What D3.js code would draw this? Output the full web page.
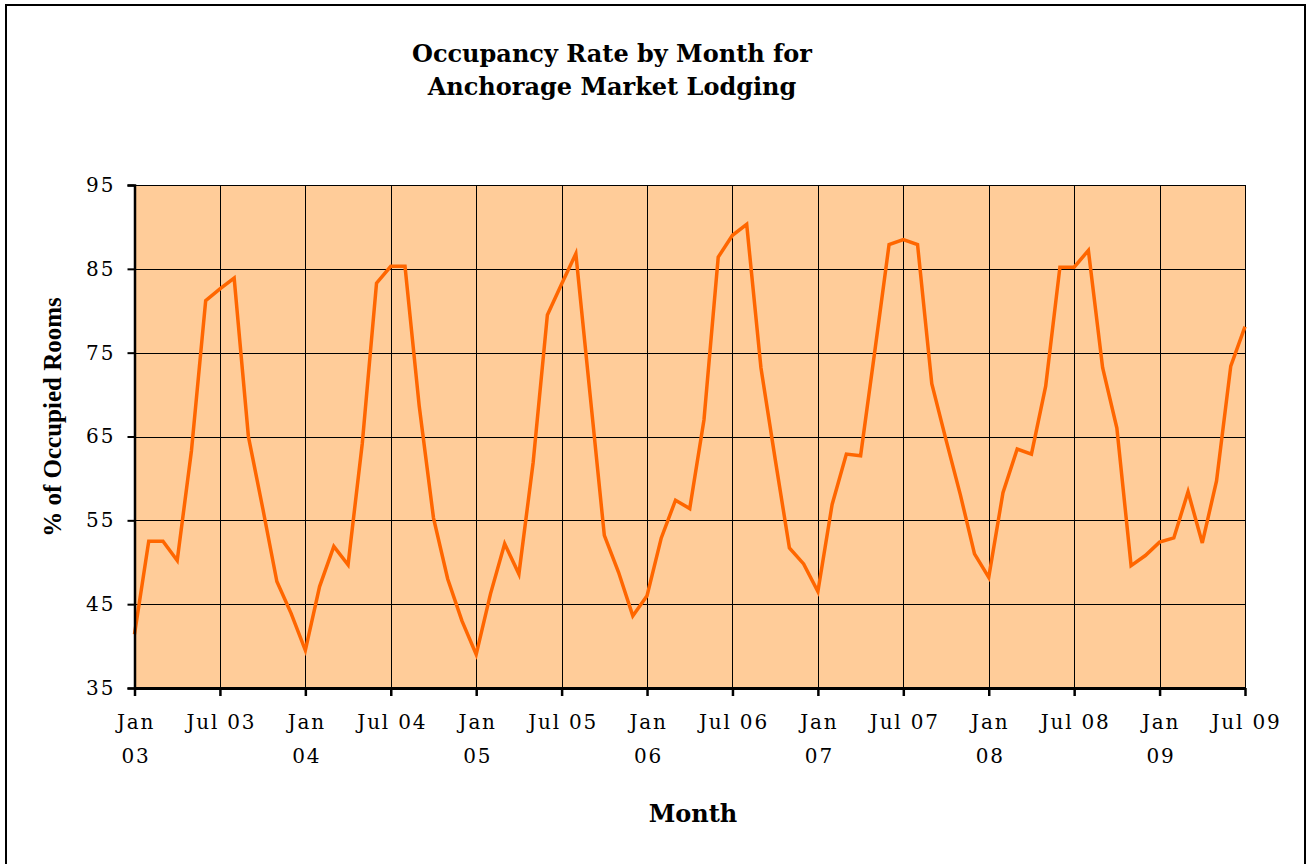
<!DOCTYPE html>
<html>
<head>
<meta charset="utf-8">
<script src="https://cdn.jsdelivr.net/npm/d3@7"></script>
<style>
  body { margin: 0; background: #fff; }
  svg text { fill: #000; }
</style>
</head>
<body>
<div id="chart"></div>
<script>
// monthly occupancy (% of occupied rooms), Anchorage market lodging
var years = ["03", "04", "05", "06", "07", "08", "09"];
var monthNames = ["Jan", "Feb", "Mar", "Apr", "May", "Jun", "Jul", "Aug", "Sep", "Oct", "Nov", "Dec"];

var occ2003 = [41.4, 52.5, 52.5, 50.2, 63.3, 81.2, 82.6, 83.9, 65.0, 56.5, 47.7, 43.9];
var occ2004 = [39.5, 47.1, 51.9, 49.7, 64.2, 83.3, 85.3, 85.3, 68.6, 55.3, 48.0, 43.0];
var occ2005 = [39.0, 46.2, 52.2, 48.6, 61.9, 79.5, 83.2, 86.8, 70.0, 53.2, 48.8, 43.6];
var occ2006 = [46.0, 52.9, 57.4, 56.4, 67.0, 86.4, 89.0, 90.3, 73.2, 62.3, 51.7, 49.8];
var occ2007 = [46.5, 56.9, 62.9, 62.7, 75.2, 87.9, 88.5, 87.9, 71.3, 64.6, 58.1, 51.0];
var occ2008 = [48.2, 58.3, 63.5, 62.9, 71.0, 85.2, 85.2, 87.2, 73.2, 66.0, 49.6, 50.8];
var occ2009 = [52.4, 52.9, 58.4, 52.3, 59.7, 73.4, 78.1];

var yTicks = [35, 45, 55, 65, 75, 85, 95];

var byYear = [occ2003, occ2004, occ2005, occ2006, occ2007, occ2008, occ2009];
var data = [];
byYear.forEach(function(vals, yi){
  vals.forEach(function(v, mi){
    data.push({ month: monthNames[mi] + " " + years[yi], value: v });
  });
});
var categories = data.map(function(d){ return d.month; });

var width = 1309, height = 864;
var plot = { left: 134.5, right: 1245, top: 185, bottom: 688 };
var tickFont = "'DejaVu Serif', serif";

var svg = d3.select("#chart")
  .append("svg")
  .attr("width", width)
  .attr("height", height);

// outer chart frame
svg.append("rect")
  .attr("x", 6).attr("y", 5)
  .attr("width", 1299).attr("height", 880)
  .attr("fill", "#fff")
  .attr("stroke", "#000")
  .attr("stroke-width", 2);

var x = d3.scalePoint()
  .domain(categories)
  .range([plot.left, plot.right]);

var y = d3.scaleLinear()
  .domain([35, 95])
  .range([plot.bottom, plot.top]);

// plot area background
svg.append("rect")
  .attr("x", plot.left)
  .attr("y", plot.top)
  .attr("width", plot.right - plot.left)
  .attr("height", plot.bottom - plot.top)
  .attr("fill", "#FFCC99");

var xTickVals = categories.filter(function(d, i){ return i % 6 === 0; });

// gridlines
svg.append("g")
  .selectAll("line.hgrid")
  .data(yTicks)
  .enter().append("line")
  .attr("class", "hgrid")
  .attr("x1", plot.left).attr("x2", plot.right)
  .attr("y1", function(d){ return Math.round(y(d)) + 0.5; })
  .attr("y2", function(d){ return Math.round(y(d)) + 0.5; })
  .attr("stroke", "#000")
  .attr("stroke-width", 1);

svg.append("g")
  .selectAll("line.vgrid")
  .data(xTickVals)
  .enter().append("line")
  .attr("class", "vgrid")
  .attr("x1", function(d){ return Math.round(x(d)) + 0.5; })
  .attr("x2", function(d){ return Math.round(x(d)) + 0.5; })
  .attr("y1", plot.top).attr("y2", plot.bottom)
  .attr("stroke", "#000")
  .attr("stroke-width", 1);

// the series
var line = d3.line()
  .x(function(d){ return x(d.month); })
  .y(function(d){ return y(d.value); });

svg.append("path")
  .datum(data)
  .attr("d", line)
  .attr("fill", "none")
  .attr("stroke", "#FF6600")
  .attr("stroke-width", 3.5)
  .attr("stroke-linejoin", "miter");

// axes
var yAxis = d3.axisLeft(y)
  .tickValues(yTicks)
  .tickSize(7)
  .tickPadding(12)
  .tickFormat(d3.format("d"));

var gy = svg.append("g")
  .attr("transform", "translate(" + plot.left + ",0)")
  .call(yAxis);
gy.select(".domain").attr("stroke-width", 2.5);
gy.selectAll(".tick line").attr("stroke-width", 2);
gy.selectAll("text")
  .style("font-family", tickFont)
  .style("font-size", "20px")
  .style("letter-spacing", "2px");

var xAxis = d3.axisBottom(x)
  .tickValues(xTickVals)
  .tickSize(8)
  .tickSizeOuter(0)
  .tickPadding(19)
  .tickFormat(function(d){ return d; });

var gx = svg.append("g")
  .attr("transform", "translate(0," + plot.bottom + ")")
  .call(xAxis);
gx.select(".domain").attr("stroke-width", 3);
gx.selectAll(".tick line").attr("stroke-width", 2.5);
gx.selectAll("text")
  .style("font-family", tickFont)
  .style("font-size", "20px")
  .style("letter-spacing", "1.8px")
  .each(function(d){
    var t = d3.select(this);
    var parts = d.split(" ");
    if(parts[0] === "Jan"){
      t.text(null);
      t.append("tspan").attr("x", 1).attr("dy", "0.71em").text(parts[0]);
      t.append("tspan").attr("x", 1).attr("dy", "34px").text(parts[1]);
      t.attr("dy", null);
    } else {
      t.attr("x", 1);
    }
  });

// titles
var titleLines = ["Occupancy Rate by Month for", "Anchorage Market Lodging"];
svg.append("g")
  .selectAll("text")
  .data(titleLines)
  .enter().append("text")
  .attr("x", 612)
  .attr("y", function(d, i){ return 62 + i * 33; })
  .attr("text-anchor", "middle")
  .style("font-family", "'DejaVu Serif', serif")
  .style("font-weight", "bold")
  .style("font-size", "24px")
  .text(function(d){ return d; });

svg.append("text")
  .attr("x", 693).attr("y", 822)
  .attr("text-anchor", "middle")
  .style("font-family", "'DejaVu Serif', serif")
  .style("font-weight", "bold")
  .style("font-size", "24px")
  .text("Month");

svg.append("text")
  .attr("transform", "translate(61,417) rotate(-90)")
  .attr("text-anchor", "middle")
  .style("font-family", "'Liberation Serif', serif")
  .style("font-weight", "bold")
  .style("font-size", "25px")
  .text("% of Occupied Rooms");
</script>
</body>
</html>
